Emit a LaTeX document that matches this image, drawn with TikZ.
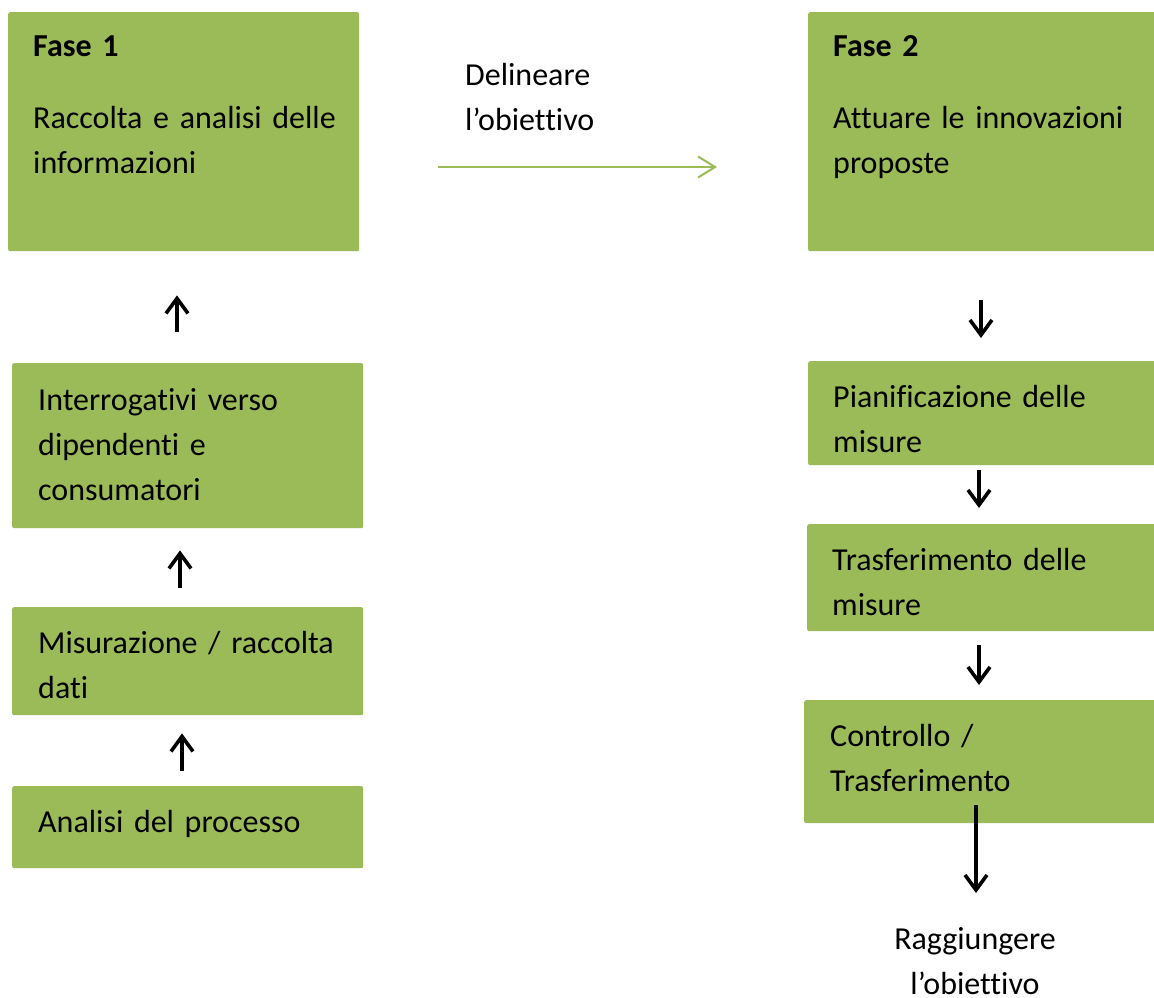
\documentclass[tikz,border=0pt]{standalone}
\usepackage{fontspec}
\setmainfont{Carlito}[Ligatures={NoCommon}]
\usetikzlibrary{arrows.meta}
\definecolor{verde}{HTML}{9BBB59}
\newcommand\testo{\fontsize{32}{45}\selectfont\fontdimen2\font=5.4pt\relax}

\tikzset{
  box/.style={fill=verde, rounded corners=2pt, anchor=north west, inner sep=0pt},
  txt/.style={anchor=base west, inner sep=0pt, align=left, text width=330pt,
    font=\testo},
  freccia/.style={line width=3.6pt, -{Straight Barb[length=15pt,width=22pt]}},
  frecciaverde/.style={verde, line width=2pt, -{Straight Barb[length=17pt,width=21pt]}},
}

\begin{document}
\begin{tikzpicture}[x=1pt,y=-1pt]
\useasboundingbox (0,0) rectangle (1154,998);

% colonna sinistra
\node[box, minimum width=351pt, minimum height=239pt] (fase1) at (8,12) {};
\node[box, minimum width=351pt, minimum height=165pt] (interr) at (12,363) {};
\node[box, minimum width=351pt, minimum height=108pt] (misura) at (12,607) {};
\node[box, minimum width=351pt, minimum height=82pt] (analisi) at (12,786) {};

\node[txt] (tfase1) at (33,57) {\textbf{Fase 1}};
\node[txt] (traccolta) at (33,128) {Raccolta e analisi delle\\informazioni};
\node[txt] (tinterr) at (38,410) {Interrogativi verso\\dipendenti e\\consumatori};
\node[txt] (tmisura) at (38,653) {Misurazione / raccolta\\dati};
\node[txt] (tanalisi) at (38,832) {Analisi del processo};

% colonna destra
\node[box, minimum width=352pt, minimum height=239pt] (fase2) at (808,12) {};
\node[box, minimum width=352pt, minimum height=104pt] (pianif) at (808,361) {};
\node[box, minimum width=353pt, minimum height=107pt] (trasf) at (807,524) {};
\node[box, minimum width=356pt, minimum height=123pt] (contr) at (804,700) {};

\node[txt] (tfase2) at (833,57) {\textbf{Fase 2}};
\node[txt] (tattuare) at (833,128) {Attuare le innovazioni\\proposte};
\node[txt] (tpianif) at (833,407) {Pianificazione delle\\misure};
\node[txt] (ttrasf) at (832,570) {Trasferimento delle\\misure};
\node[txt] (tcontr) at (830,746) {Controllo /\\Trasferimento};

\node[txt] (delinea) at (465,85) {Delineare\\l’obiettivo};
\node[txt, anchor=base, align=center, text width=220pt] (goal) at (975,949) {Raggiungere\\l’obiettivo};

% frecce
\draw[freccia, shorten <=15pt, shorten >=18pt] (182,0 |- analisi.north) -- (182,0 |- misura.south);
\draw[freccia, shorten <=19pt, shorten >=22pt] (180,0 |- misura.north) -- (180,0 |- interr.south);
\draw[freccia, shorten <=31pt, shorten >=44pt] (177,0 |- interr.north) -- (177,0 |- fase1.south);
\draw[frecciaverde, shorten <=79pt, shorten >=91pt] (fase1.east |- 0,167) -- (fase2.west |- 0,167);
\draw[freccia, shorten <=49pt, shorten >=23pt] (981,0 |- fase2.south) -- (981,0 |- pianif.north);
\draw[freccia, shorten <=5pt, shorten >=16pt] (979,0 |- pianif.south) -- (979,0 |- trasf.north);
\draw[freccia, shorten <=14pt, shorten >=15pt] (979,0 |- trasf.south) -- (979,0 |- contr.north);
\draw[freccia, shorten <=-18pt, shorten >=56pt] (976,0 |- contr.south) -- (976,0 |- goal.base);
\end{tikzpicture}
\end{document}
